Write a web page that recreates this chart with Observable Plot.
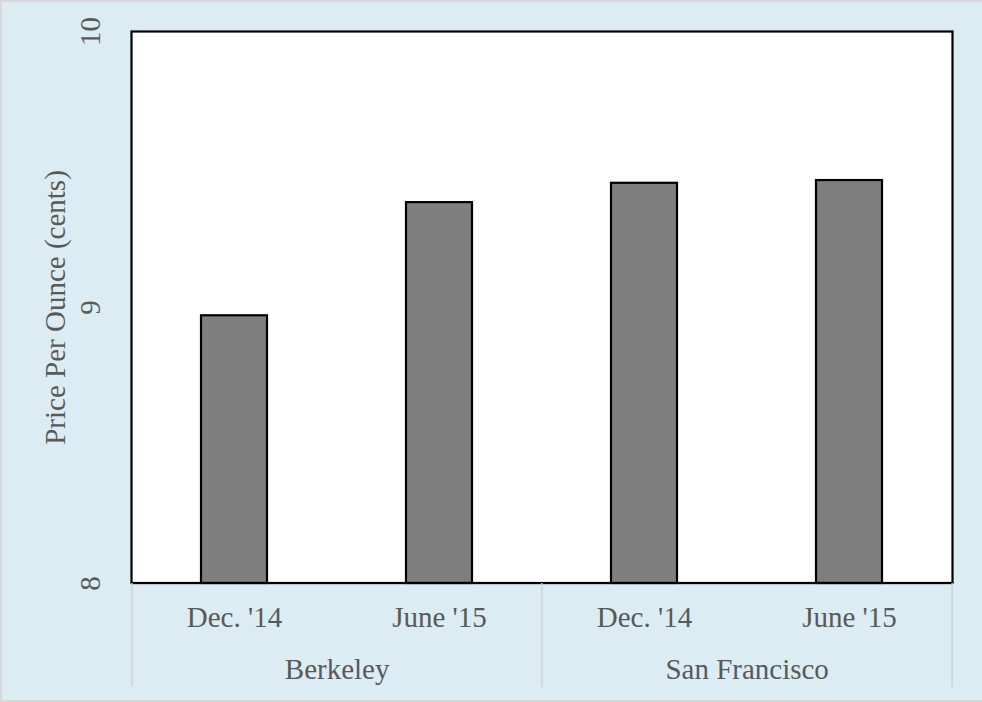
<!DOCTYPE html>
<html>
<head>
<meta charset="utf-8">
<script src="https://cdn.jsdelivr.net/npm/d3@7"></script>
<script src="https://cdn.jsdelivr.net/npm/@observablehq/plot@0.6"></script>
<style>
  html, body { margin: 0; padding: 0; background: #dbedf3; }
  #wrap { position: relative; width: 982px; height: 702px; }
  #edge { position: absolute; left: 0; top: 0; width: 982px; height: 702px; box-sizing: border-box;
          border: 2px solid #d9d9d9; border-right-width: 0; pointer-events: none; }
</style>
</head>
<body>
<div id="wrap"><div id="edge"></div></div>
<script>
// ---- data ----
const cities = ["Berkeley", "San Francisco"];
const periods = ["Dec. '14", "June '15"];
const prices = [
  [8.97, 9.38],   // Berkeley
  [9.45, 9.46]    // San Francisco
];
const yTicks = [8, 9, 10];
const yLabel = "Price Per Ounce (cents)";

// ---- build table ----
const rows = [];
cities.forEach((c, i) => periods.forEach((p, j) => rows.push({city: c, period: p, key: c + "|" + p, value: prices[i][j]})));
const keys = rows.map(d => d.key);

const W = 982, H = 702, ML = 131, MR = 30, MT = 31, MB = 119;
const step = (W - ML - MR) / keys.length;
const plotH = H - MT - MB;
const font = "'Liberation Serif', 'Times New Roman', serif";

const chart = Plot.plot({
  width: W, height: H,
  marginLeft: ML, marginRight: MR, marginTop: MT, marginBottom: MB,
  style: {background: "#dbedf3", fontFamily: font, fontSize: "29px", color: "#595959"},
  x: {domain: keys, paddingInner: 0.68, paddingOuter: 0.34, axis: null},
  y: {domain: [yTicks[0], yTicks[yTicks.length - 1]], axis: null},
  marks: [
    Plot.frame({fill: "white", stroke: null}),
    Plot.barY(rows, {x: "key", y1: yTicks[0], y2: "value", fill: "#7f7f7f", stroke: "black", strokeWidth: 2.2}),
    Plot.ruleY([yTicks[0]], {stroke: "#a6a6a6", strokeWidth: 1.5}),
    Plot.frame({stroke: "black", strokeWidth: 2.2, insetBottom: 0.5}),
    // category separators below the axis
    Plot.ruleX(cities.map(c => c + "|" + periods[0]), {stroke: "#d0d0d0", strokeWidth: 1.5, dx: -step / 2, insetTop: plotH, insetBottom: -104}),
    Plot.ruleX([keys[keys.length - 1]], {stroke: "#d0d0d0", strokeWidth: 1.5, dx: step / 2, insetTop: plotH, insetBottom: -104}),
    // period labels
    Plot.text(rows, {x: "key", text: "period", frameAnchor: "bottom", dy: 43, fontSize: 29, fill: "#595959"}),
    // city labels
    Plot.text(cities, {x: c => c + "|" + periods[0], text: c => c, frameAnchor: "bottom", dx: step / 2, dy: 95, fontSize: 29, fill: "#595959"}),
    // y tick labels (rotated)
    Plot.text(yTicks, {y: d => d, text: d => String(d), frameAnchor: "left", textAnchor: "middle", dx: -41, rotate: -90, fontSize: 29, fill: "#595959"}),
    // y axis title
    Plot.text([yLabel], {frameAnchor: "left", textAnchor: "middle", dx: -76, rotate: -90, text: d => d, fontSize: 29, fill: "#595959"})
  ]
});
document.getElementById("wrap").prepend(chart);
</script>
</body>
</html>
